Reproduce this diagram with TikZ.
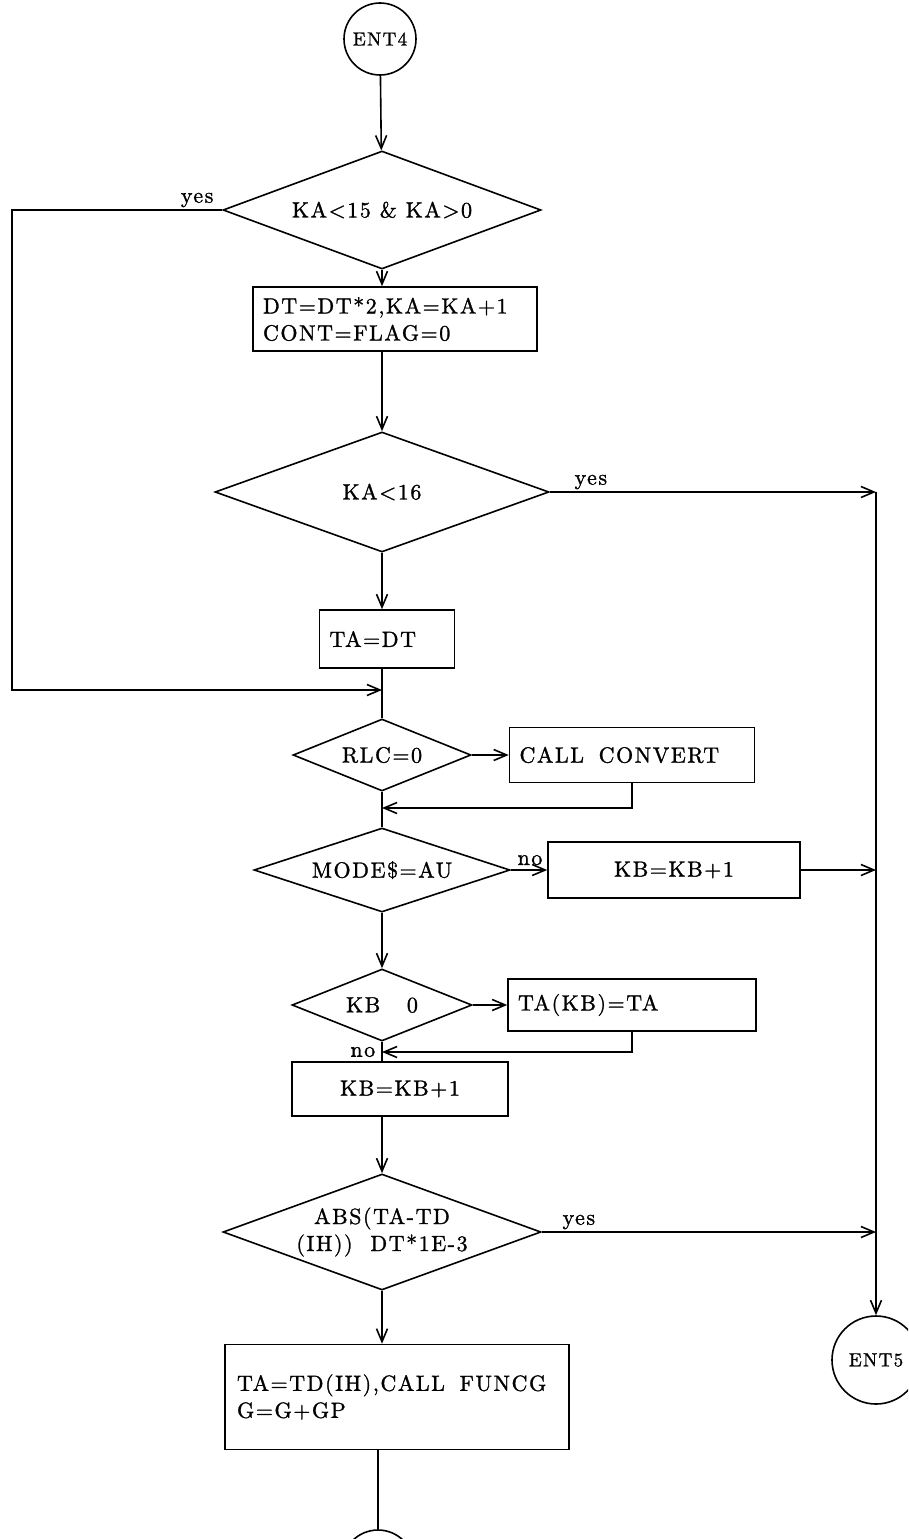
\documentclass[tikz,border=0pt]{standalone}
\usepackage{fontspec}
\setmainfont{lmroman10-regular.otf}[LetterSpace=7,FakeBold=1.2]
\usetikzlibrary{positioning,shapes.geometric,arrows.meta,calc}

\begin{document}
\begin{tikzpicture}[x=1pt, y=-1pt, line width=1.6pt,
    >={Straight Barb[length=13pt,width=11pt]},
    every node/.style={font=\fontsize{22}{27}\selectfont},
    term/.style={draw, circle, minimum size=#1, inner sep=0pt, font=\fontsize{19}{22}\selectfont},
    test/.style={draw, diamond, inner sep=0pt},
    proc/.style={draw, rectangle, align=left, inner xsep=10pt, inner ysep=4pt},
    lbl/.style={inner sep=2pt}]
    \useasboundingbox (0,0) rectangle (908,1539);
    \clip (0,0) rectangle (908,1539);

    % columns for the loop on the left and the exit line on the right
    \coordinate (lft) at (12,0);
    \coordinate (rgt) at (876,0);

    % entry
    \node[term=72] (ent4) at (380,39) {ENT4};

    % first test
    \node[test, minimum width=318, minimum height=118, aspect=2.7] (ka15) at (382,210) {KA<15 \& KA>0};
    \draw[->] (ent4) -- (ka15);
    \node[lbl, anchor=south east] (yes1) at ([xshift=-6pt]ka15.west) {yes};

    % step up
    \node[proc, text width=264, minimum height=64] (dt) at (395,319) {DT=DT*2,KA=KA+1\\CONT=FLAG=0};
    \draw[->] (ka15.south) -- (ka15.south |- dt.north);

    % second test
    \node[test, minimum width=334, minimum height=120, aspect=2.75] (ka16) at (382,492) {KA<16};
    \draw[->] (ka16.north |- dt.south) -- (ka16.north);
    \node[lbl, anchor=south west] (yes2) at ([xshift=22pt]ka16.east) {yes};
    \draw[->] (ka16.east) -- (ka16.east -| rgt);

    \node[proc, text width=115, minimum height=58] (ta) at (387,639) {TA=DT};
    \draw[->] (ka16.south) -- (ka16.south |- ta.north);

    % loop back from the first test
    \coordinate (j1) at (382,690);
    \draw[->] (ka15.west) -- (ka15.west -| lft) |- (j1);

    % conversion
    \node[test, minimum width=178, minimum height=72, aspect=2.5] (rlc) at (382,755) {RLC=0};
    \draw (ta.south -| j1) -- (rlc.north);
    \node[proc, text width=225, minimum height=55] (conv) at (632,755) {CALL\ \ CONVERT};
    \draw[->] (rlc.east) -- (conv.west);
    \coordinate (j2) at (382,808);
    \draw[->] (conv.south) |- (j2);

    % mode test
    \node[test, minimum width=256, minimum height=84, aspect=3] (mode) at (382,870) {MODE\$=AU};
    \draw (rlc.south) -- (mode.north);
    \node[lbl, anchor=south west] (no1) at ([xshift=4pt,yshift=2pt]mode.east) {no};
    \node[proc, text width=232, minimum height=56, align=center] (kb1) at (674,870) {KB=KB+1};
    \draw[->] (mode.east) -- (kb1.west);
    \draw[->] (kb1.east) -- (kb1.east -| rgt);

    % store TA
    \node[test, minimum width=180, minimum height=72, aspect=2.5] (kb0) at (382,1005) {KB\ \ \ 0};
    \draw[->] (mode.south) -- (kb0.north);
    \node[proc, text width=228, minimum height=52] (tak) at (632,1005) {TA(KB)=TA};
    \draw[->] (kb0.east) -- (tak.west);
    \coordinate (j3) at (382,1052);
    \draw[->] (tak.south) |- (j3);
    \node[lbl, anchor=east] (no2) at ([xshift=-4pt]j3) {no};

    \node[proc, text width=196, minimum height=54, align=center] (kb2) at (400,1089) {KB=KB+1};
    \draw (kb0.south) -- (kb0.south |- kb2.north);

    % tolerance test
    \node[test, minimum width=318, minimum height=116, aspect=2.75, align=center] (abs) at (382,1232) {ABS(TA-TD\\(IH))\ \ DT*1E-3};
    \draw[->] (abs.north |- kb2.south) -- (abs.north);
    \node[lbl, anchor=south west] (yes3) at ([xshift=18pt]abs.east) {yes};
    \draw[->] (abs.east) -- (abs.east -| rgt);

    \node[proc, inner xsep=12pt, text width=320, minimum height=105] (fin) at (397,1397) {TA=TD(IH),CALL\ \ FUNCG\\G=G+GP};
    \draw[->] (abs.south) -- (abs.south |- fin.north);

    % exits
    \node[term=88] (ent5) at (876,1360) {ENT5};
    \draw[->] (ka16.east -| rgt) -- (ent5.north);
    \node[term=72] (next) at (378,1566) {};
    \draw (fin.south -| next) -- (next.north);
\end{tikzpicture}
\end{document}
